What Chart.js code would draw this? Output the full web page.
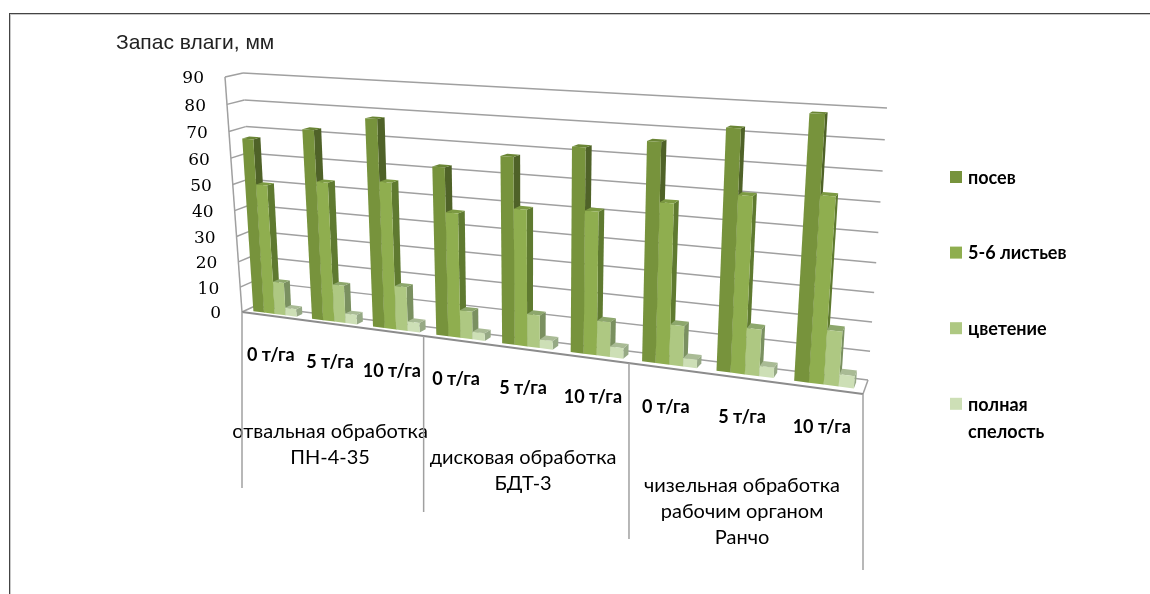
<!DOCTYPE html>
<html lang="ru">
<head>
<meta charset="utf-8">
<title>Запас влаги</title>
<script src="https://cdn.jsdelivr.net/npm/chart.js@4"></script>
<style>
  html, body { margin: 0; background: #fff; }
  #frame { position: absolute; left: 9px; top: 13px; right: 0; bottom: 0; border-left: 1px solid #444; border-top: 1px solid #444; box-shadow: inset 1px 1px 0 #c8c8c8; }
  canvas { position: absolute; left: 0; top: 0; }
</style>
</head>
<body>
<div id="frame"></div>
<canvas id="chart" width="1150" height="594"></canvas>
<script>
const categories = ["0 т/га", "5 т/га", "10 т/га", "0 т/га", "5 т/га", "10 т/га", "0 т/га", "5 т/га", "10 т/га"];
const groups = [
  ["отвальная обработка", "ПН-4-35"],
  ["дисковая обработка", "БДТ-3"],
  ["чизельная обработка", "рабочим органом", "Ранчо"],
];
const seriesNames = [["посев"], ["5-6 листьев"], ["цветение"], ["полная", "спелость"]];
const posev = [67, 72, 77.5, 62, 67.5, 72.5, 76, 82, 88];
const listya = [50, 53, 55, 46, 49.5, 51, 56, 60.5, 62.5];
const cvetenie = [12.8, 14.5, 16.7, 10.4, 12, 12.6, 14.3, 16.2, 18.7];
const spelost = [3, 3.7, 3.7, 2.9, 3.2, 3.8, 3, 3.6, 4.2];

const frontColors = ["#77933c", "#8fae4f", "#aec882", "#cddfb6"];
const sideColors = ["#4f6228", "#5f7a30", "#7a9060", "#96a985"];
const topColors = ["#6a8535", "#7c9a42", "#8da76c", "#a9bb95"];

// box corners on the canvas, [left-bottom, right-bottom, right-top, left-top]
const frontPlane = [[242, 312], [863, 394], [884, 112], [225, 77]];
const backPlane = [[255, 306], [868, 380], [887, 108], [243, 73]];
const barDepth = [0.3, 0.72];

// unit square -> quad
function makeHomography(q) {
  const [[x0, y0], [x1, y1], [x2, y2], [x3, y3]] = q;
  const dx1 = x1 - x2, dx2 = x3 - x2, sx = x0 - x1 + x2 - x3;
  const dy1 = y1 - y2, dy2 = y3 - y2, sy = y0 - y1 + y2 - y3;
  const d = dx1 * dy2 - dx2 * dy1;
  const g = (sx * dy2 - dx2 * sy) / d;
  const h = (dx1 * sy - sx * dy1) / d;
  const a = x1 - x0 + g * x1, b = x3 - x0 + h * x3;
  const e = y1 - y0 + g * y1, f = y3 - y0 + h * y3;
  return (u, v) => {
    const w = g * u + h * v + 1;
    return [(a * u + b * v + x0) / w, (e * u + f * v + y0) / w];
  };
}
const front = makeHomography(frontPlane);
const back = makeHomography(backPlane);

// scale pixel + depth (0 front, 1 back) -> canvas point
function projector(chart) {
  const area = chart.chartArea;
  return (px, py, z) => {
    const u = (px - area.left) / (area.right - area.left);
    const v = (area.bottom - py) / (area.bottom - area.top);
    const a = front(u, v), b = back(u, v);
    return [a[0] + (b[0] - a[0]) * z, a[1] + (b[1] - a[1]) * z];
  };
}

function poly(ctx, pts, fill) {
  ctx.beginPath();
  pts.forEach((p, i) => (i ? ctx.lineTo(p[0], p[1]) : ctx.moveTo(p[0], p[1])));
  ctx.closePath();
  ctx.fillStyle = fill;
  ctx.fill();
}

function line(ctx, a, b) {
  ctx.beginPath();
  ctx.moveTo(a[0], a[1]);
  ctx.lineTo(b[0], b[1]);
  ctx.stroke();
}

const box3d = {
  id: "box3d",
  beforeDatasetsDraw(chart) {
    const { ctx, chartArea: area, scales } = chart;
    const P = projector(chart);
    const y = scales.y;
    ctx.save();

    // walls and floor
    ctx.strokeStyle = "#a0a0a0";
    ctx.lineWidth = 1.5;
    y.ticks.forEach((t, i) => {
      const py = y.getPixelForTick(i);
      line(ctx, P(area.left, py, 0), P(area.left, py, 1));
      line(ctx, P(area.left, py, 1), P(area.right, py, 1));
    });
    line(ctx, P(area.left, area.bottom, 0), P(area.left, area.top, 0));
    line(ctx, P(area.right, area.bottom, 1), P(area.right, area.bottom, 0));

    // bars, left to right so each one hides its neighbour's side face
    const [z0, z1] = barDepth;
    const count = categories.length;
    for (let c = 0; c < count; c++) {
      chart.data.datasets.forEach((ds, s) => {
        const bar = chart.getDatasetMeta(s).data[c];
        const x0 = bar.x - bar.width / 2, x1 = bar.x + bar.width / 2;
        poly(ctx, [P(x1, bar.base, z0), P(x1, bar.base, z1), P(x1, bar.y, z1), P(x1, bar.y, z0)], sideColors[s]);
        poly(ctx, [P(x0, bar.y, z0), P(x1, bar.y, z0), P(x1, bar.y, z1), P(x0, bar.y, z1)], topColors[s]);
        poly(ctx, [P(x0, bar.base, z0), P(x1, bar.base, z0), P(x1, bar.y, z0), P(x0, bar.y, z0)], frontColors[s]);
      });
    }
    ctx.strokeStyle = "#8c8c8c";
    ctx.lineWidth = 2;
    line(ctx, P(area.left, area.bottom, 0), P(area.right, area.bottom, 0));

    // value axis labels
    ctx.fillStyle = "#000";
    ctx.font = "17px 'DejaVu Serif'";
    ctx.textAlign = "right";
    ctx.textBaseline = "middle";
    y.ticks.forEach((t, i) => {
      const p = P(area.left, y.getPixelForTick(i), 0);
      ctx.fillText(t.label, p[0] - 21, p[1] + 2);
    });

    // category labels hang below the front edge of the floor
    const x = scales.x;
    ctx.textAlign = "center";
    ctx.font = "bold 18px Lato, 'Noto Sans'";
    categories.forEach((label, i) => {
      const p = P(x.getPixelForTick(i), area.bottom, 0);
      ctx.fillText(label, p[0], p[1] + 39);
    });

    // treatment groups with their separators
    const step = x.getPixelForTick(1) - x.getPixelForTick(0);
    let start = 0;
    ctx.font = "20px Lato, 'Noto Sans'";
    groups.forEach((rows) => {
      const c = P(x.getPixelForTick(start + 1), area.bottom, 0);
      rows.forEach((row, r) => ctx.fillText(row, c[0], c[1] + 108 + r * 26));
      start += 3;
    });
    ctx.strokeStyle = "#a0a0a0";
    ctx.lineWidth = 1.5;
    [0, 3, 6, 9].forEach((tick) => {
      const p = P(area.left + tick * step, area.bottom, 0);
      line(ctx, p, [p[0], p[1] + 176]);
    });

    // legend
    ctx.textAlign = "left";
    ctx.font = "bold 18px Lato, 'Noto Sans'";
    seriesNames.forEach((rows, s) => {
      const top = 171 + s * 75.6;
      ctx.fillStyle = frontColors[s];
      ctx.fillRect(950, top, 12, 12);
      ctx.fillStyle = "#000";
      rows.forEach((row, r) => ctx.fillText(row, 968, top + 7 + r * 27));
    });

    // axis caption
    ctx.font = "21px 'Liberation Sans'";
    ctx.fillStyle = "#222";
    ctx.fillText("Запас влаги, мм", 116, 43);
    ctx.restore();
    return false; // the flat bars stay undrawn
  },
};

new Chart(document.getElementById("chart"), {
  type: "bar",
  data: {
    labels: categories,
    datasets: [posev, listya, cvetenie, spelost].map((data, s) => ({
      label: seriesNames[s].join(" "),
      data,
      backgroundColor: frontColors[s],
    })),
  },
  options: {
    responsive: false,
    animation: false,
    layout: { padding: 20 },
    categoryPercentage: 0.74,
    barPercentage: 1,
    plugins: { legend: { display: false }, title: { display: false }, tooltip: { enabled: false } },
    scales: {
      x: { display: false, grid: { display: false } },
      y: { display: false, min: 0, max: 90, ticks: { stepSize: 10 }, grid: { display: false } },
    },
  },
  plugins: [box3d],
});
</script>
</body>
</html>
